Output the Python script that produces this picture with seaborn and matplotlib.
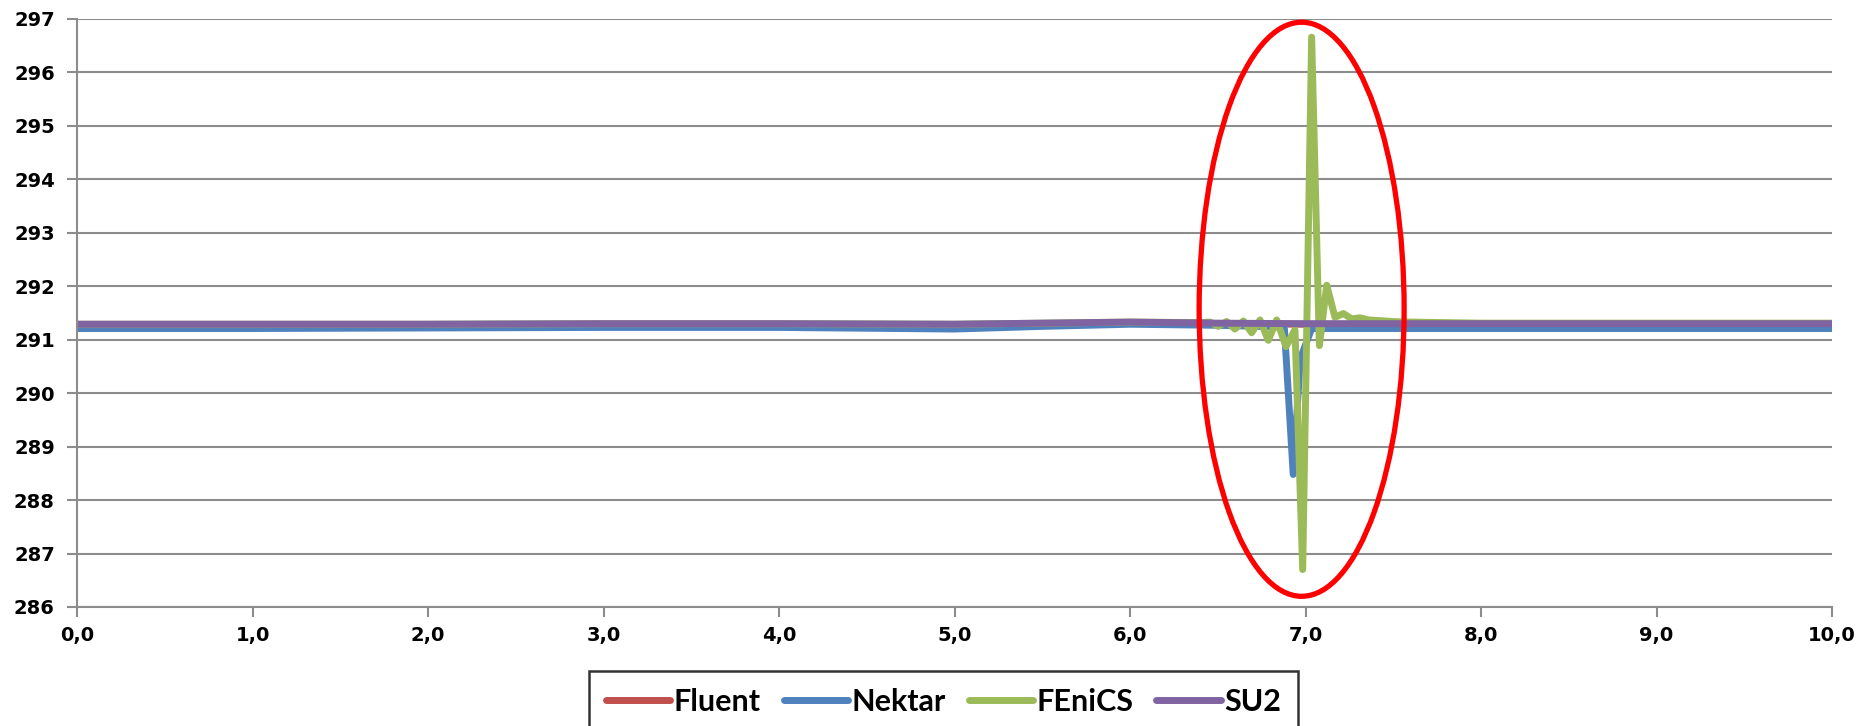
import matplotlib
matplotlib.use("Agg")
import matplotlib.pyplot as plt
import seaborn as sns
import pandas as pd
from matplotlib.patches import Ellipse
from matplotlib.lines import Line2D

# ---------------- data ----------------
series_names = ["Fluent", "Nektar", "FEniCS", "SU2"]
series_colors = ["#C0504D", "#4F81BD", "#9BBB59", "#8064A2"]

fluent_x = [0.0, 1.0, 2.0, 3.0, 4.0, 5.0, 5.5, 6.0, 6.5, 7.0, 7.5, 8.0, 9.0, 10.0]
fluent_y = [291.27, 291.27, 291.27, 291.28, 291.28, 291.27, 291.29, 291.31, 291.30,
            291.29, 291.29, 291.29, 291.29, 291.29]

nektar_x = [0.0, 1.0, 2.0, 3.0, 4.0, 5.0, 5.5, 6.0, 6.5, 6.85, 6.88, 6.93, 6.97,
            7.035, 7.5, 8.0, 9.0, 10.0]
nektar_y = [291.21, 291.21, 291.22, 291.23, 291.23, 291.20, 291.25, 291.29, 291.27,
            291.24, 291.20, 288.48, 290.64, 291.21, 291.21, 291.21, 291.21, 291.21]

fenics_x = [0.0, 1.0, 2.0, 3.0, 4.0, 5.0, 5.5, 6.0, 6.4, 6.456, 6.503, 6.551, 6.598,
            6.646, 6.693, 6.741, 6.788, 6.836, 6.889, 6.940, 6.984, 7.035, 7.079,
            7.121, 7.168, 7.216, 7.263, 7.311, 7.36, 7.41, 7.5, 7.6, 8.0, 9.0, 10.0]
fenics_y = [291.29, 291.29, 291.29, 291.30, 291.30, 291.29, 291.31, 291.33, 291.32,
            291.33, 291.25, 291.34, 291.20, 291.35, 291.13, 291.37, 290.99, 291.37,
            290.87, 291.19, 286.70, 296.66, 290.89, 292.02, 291.42, 291.49, 291.39,
            291.41, 291.37, 291.36, 291.34, 291.33, 291.31, 291.31, 291.31]

su2_x = [0.0, 1.0, 2.0, 3.0, 4.0, 5.0, 5.5, 6.0, 6.5, 7.0, 7.5, 8.0, 9.0, 10.0]
su2_y = [291.29, 291.29, 291.29, 291.30, 291.30, 291.29, 291.31, 291.33, 291.31,
         291.30, 291.30, 291.30, 291.30, 291.30]

y_ticks = [286, 287, 288, 289, 290, 291, 292, 293, 294, 295, 296, 297]
x_ticks = [0, 1, 2, 3, 4, 5, 6, 7, 8, 9, 10]
x_tick_labels = ["0,0", "1,0", "2,0", "3,0", "4,0", "5,0", "6,0", "7,0", "8,0", "9,0", "10,0"]

# annotation ellipse (data units)
ell_cx, ell_cy, ell_w, ell_h = 6.978, 291.57, 1.168, 10.74

# ---------------- build frame ----------------
frames = []
for name, xs, ys in zip(series_names,
                        [fluent_x, nektar_x, fenics_x, su2_x],
                        [fluent_y, nektar_y, fenics_y, su2_y]):
    frames.append(pd.DataFrame({"x": xs, "y": ys, "series": name}))
df = pd.concat(frames, ignore_index=True)

sns.set_style("white")
plt.rcParams["font.family"] = ["DejaVu Sans"]
plt.rcParams["text.color"] = "black"
plt.rcParams["xtick.color"] = "black"
plt.rcParams["ytick.color"] = "black"

fig = plt.figure(figsize=(18.7, 7.26), dpi=100)
ax = fig.add_axes([77 / 1870, 1 - 607 / 726, (1832 - 77) / 1870, (607 - 19) / 726])

grid_c = "#8C8C8C"
for yv in y_ticks:
    ax.axhline(yv, color=grid_c, lw=1.5, zorder=0)

sns.lineplot(data=df, x="x", y="y", hue="series", hue_order=series_names,
             palette=series_colors, estimator=None, sort=False, linewidth=5.0,
             ax=ax, legend=False, solid_joinstyle="round", solid_capstyle="round")

ax.add_patch(Ellipse((ell_cx, ell_cy), ell_w, ell_h, fill=False, edgecolor="#FF0000",
                     linewidth=3.8, zorder=5, clip_on=False))

ax.set_xlim(0, 10)
ax.set_ylim(286, 297)
ax.set_xticks(x_ticks)
ax.set_xticklabels(x_tick_labels)
ax.set_yticks(y_ticks)
ax.set_yticklabels([str(v) for v in y_ticks])
ax.set_xlabel("")
ax.set_ylabel("")
for lab in ax.get_xticklabels() + ax.get_yticklabels():
    lab.set_fontweight("bold")
    lab.set_fontsize(14)
    lab.set_color("black")
ax.tick_params(axis="both", direction="out", length=7, width=1.5, color=grid_c,
               bottom=True, left=True)
ax.tick_params(axis="y", pad=9)
ax.tick_params(axis="x", pad=7)
for s in ["top", "right"]:
    ax.spines[s].set_visible(False)
for s in ["left", "bottom"]:
    ax.spines[s].set_color(grid_c)
    ax.spines[s].set_linewidth(1.5)

handles = [Line2D([0], [0], color=c, lw=5, solid_capstyle="round") for c in series_colors]
leg = fig.legend(handles, series_names, loc="upper center",
                 bbox_to_anchor=(943.5 / 1870, 1 - 671 / 726), ncol=4, frameon=True,
                 fancybox=False, edgecolor="black", handlelength=2.1, handletextpad=0.12,
                 columnspacing=0.75, borderpad=0.55, borderaxespad=0.0,
                 prop={"family": ["Lato", "DejaVu Sans"], "weight": "bold", "size": 22})
leg.get_frame().set_linewidth(1.8)
for t in leg.get_texts():
    t.set_color("black")

fig.savefig("out.png", dpi=100)
